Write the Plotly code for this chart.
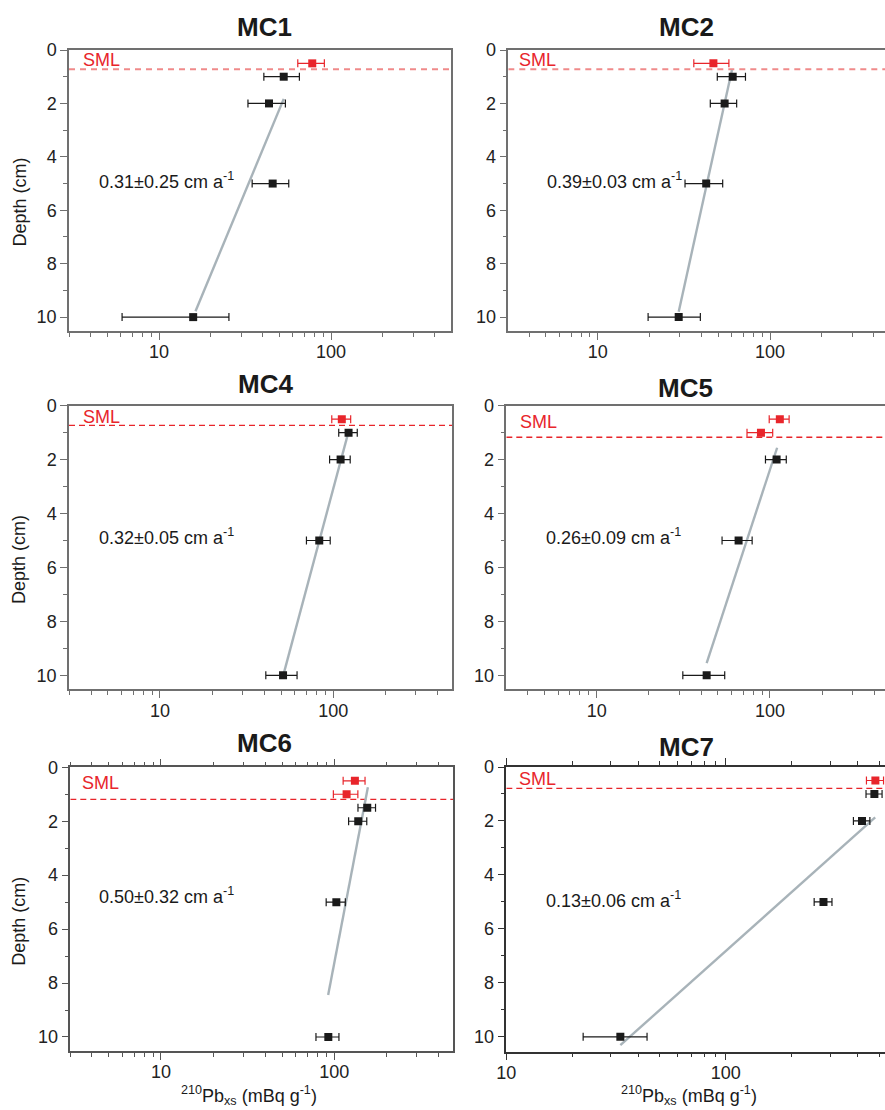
import plotly.graph_objects as go

W, H = 885, 1110

# ---------------- data ----------------
cores = ["MC1", "MC2", "MC4", "MC5", "MC6", "MC7"]

mc1_depth = [0.5, 1, 2, 5, 10]
mc1_pb = [77.8, 53.1, 43.6, 45.8, 15.8]
mc1_err = [13.7, 12.4, 10.7, 11.0, 9.7]
mc1_sml = [True, False, False, False, False]
mc1_fit_pb = [53.1, 16.3]
mc1_fit_depth = [1.83, 9.78]
mc1_sml_depth = 0.72
mc1_rate = "0.31±0.25 cm a<sup>-1</sup>"

mc2_depth = [0.5, 1, 2, 5, 10]
mc2_pb = [46.9, 60.7, 54.5, 42.6, 29.5]
mc2_err = [10.8, 11.3, 9.5, 10.5, 9.9]
mc2_sml = [True, False, False, False, False]
mc2_fit_pb = [60.1, 29.5]
mc2_fit_depth = [0.75, 9.8]
mc2_sml_depth = 0.72
mc2_rate = "0.39±0.03 cm a<sup>-1</sup>"

mc4_depth = [0.5, 1, 2, 5, 10]
mc4_pb = [112, 122.5, 110.2, 83, 51.3]
mc4_err = [14, 15, 15, 13, 10.5]
mc4_sml = [True, False, False, False, False]
mc4_fit_pb = [122.5, 51.8]
mc4_fit_depth = [0.96, 9.93]
mc4_sml_depth = 0.73
mc4_rate = "0.32±0.05 cm a<sup>-1</sup>"

mc5_depth = [0.5, 1, 2, 5, 10]
mc5_pb = [114, 88.7, 109.2, 65.9, 43.1]
mc5_err = [15, 15, 15, 13, 11.7]
mc5_sml = [True, True, False, False, False]
mc5_fit_pb = [110, 43.1]
mc5_fit_depth = [1.56, 9.55]
mc5_sml_depth = 1.17
mc5_rate = "0.26±0.09 cm a<sup>-1</sup>"

mc6_depth = [0.5, 1, 1.5, 2, 5, 10]
mc6_pb = [131.5, 117.8, 155, 137.5, 102.8, 92.4]
mc6_err = [19, 19, 18, 16.5, 13, 14]
mc6_sml = [True, True, False, False, False, False]
mc6_fit_pb = [156.3, 92.2]
mc6_fit_depth = [0.74, 8.44]
mc6_sml_depth = 1.19
mc6_rate = "0.50±0.32 cm a<sup>-1</sup>"

mc7_depth = [0.5, 1, 2, 5, 10]
mc7_pb = [481, 476, 418, 279, 33.1]
mc7_err = [43, 40, 36, 26, 10.7]
mc7_sml = [True, False, False, False, False]
mc7_fit_pb = [480, 33.1]
mc7_fit_depth = [1.87, 10.31]
mc7_sml_depth = 0.79
mc7_rate = "0.13±0.06 cm a<sup>-1</sup>"

x_title = "<sup>210</sup>Pb<sub>xs</sub> (mBq g<sup>-1</sup>)"
y_title = "Depth (cm)"
y_ticks = [0, 2, 4, 6, 8, 10]
y_minor = [1, 3, 5, 7, 9]
x_ticks = [10, 100]

# ---------------- layout geometry (pixels) ----------------
panels = [
    dict(l=69, r=451, t=50, b=331, xr=[0.4767, 2.6977], yb=10.52, col=0),
    dict(l=508.3, r=885, t=50, b=331, xr=[0.481, 2.667], yb=10.52, col=1),
    dict(l=69, r=452, t=405.7, b=689.3, xr=[0.475, 2.685], yb=10.52, col=0),
    dict(l=506.3, r=885, t=405.7, b=689.3, xr=[0.478, 2.664], yb=10.52, col=1),
    dict(l=70.3, r=453, t=767.3, b=1051, xr=[0.477, 2.685], yb=10.52, col=0),
    dict(l=506.3, r=885, t=767, b=1051.7, xr=[1.0, 2.726], yb=10.55, col=1),
]
title_pos = [(264, 27), (686.7, 27), (265, 384), (685.3, 388), (264.3, 743), (686.7, 746.7)]
rate_pos = [(97, 180), (545, 180), (97, 536.7), (544.3, 536.7), (97, 895.7), (544.3, 899)]
sml_pos = [(81, 60), (517.3, 60), (81, 416.7), (517.7, 422.3), (80, 783.3), (517.3, 779.3)]

data = [
    (mc1_depth, mc1_pb, mc1_err, mc1_sml, mc1_fit_pb, mc1_fit_depth, mc1_sml_depth, mc1_rate),
    (mc2_depth, mc2_pb, mc2_err, mc2_sml, mc2_fit_pb, mc2_fit_depth, mc2_sml_depth, mc2_rate),
    (mc4_depth, mc4_pb, mc4_err, mc4_sml, mc4_fit_pb, mc4_fit_depth, mc4_sml_depth, mc4_rate),
    (mc5_depth, mc5_pb, mc5_err, mc5_sml, mc5_fit_pb, mc5_fit_depth, mc5_sml_depth, mc5_rate),
    (mc6_depth, mc6_pb, mc6_err, mc6_sml, mc6_fit_pb, mc6_fit_depth, mc6_sml_depth, mc6_rate),
    (mc7_depth, mc7_pb, mc7_err, mc7_sml, mc7_fit_pb, mc7_fit_depth, mc7_sml_depth, mc7_rate),
]

RED = "#e8252b"
BLACK = "#1a1a1a"
FIT = "#a8b3b9"
FONT = "Liberation Sans, Arial, sans-serif"


def px(x):
    return x / W


def py(y):
    return 1 - y / H


fig = go.Figure()
annotations = []

for i, (name, p, d) in enumerate(zip(cores, panels, data)):
    depth, pb, err, sml, fit_pb, fit_depth, sml_depth, rate = d
    n = i + 1
    xa = "x" if n == 1 else f"x{n}"
    ya = "y" if n == 1 else f"y{n}"
    xkey = "xaxis" if n == 1 else f"xaxis{n}"
    ykey = "yaxis" if n == 1 else f"yaxis{n}"

    if i < 4:
        frame = "#707070"
    elif i == 4:
        frame = "#555555"
    else:
        frame = "#333333"

    x_minor = [v for v in [3, 4, 5, 6, 7, 8, 9, 20, 30, 40, 50, 60, 70, 80, 90, 200, 300, 400, 500]
               if 10 ** p["xr"][0] - 1e-6 <= v <= 10 ** p["xr"][1] + 1e-6]

    fig.update_layout(**{
        xkey: dict(
            type="log", range=p["xr"], domain=[px(p["l"]), px(p["r"])], anchor=ya,
            automargin=False,
            showgrid=False, zeroline=False, showline=True, linecolor=frame, linewidth=1.5,
            mirror="ticks" if i >= 4 else True,
            ticks="outside", ticklen=7, tickwidth=1.2, tickcolor=frame,
            tickvals=x_ticks, ticktext=[str(v) for v in x_ticks],
            ticklabelstandoff=-3,
            tickfont=dict(size=18, color="#222", family=FONT),
            minor=dict(tickvals=x_minor, ticks="outside", ticklen=4, tickwidth=1.2,
                       tickcolor=frame, showgrid=False),
        ),
        ykey: dict(
            range=[p["yb"], 0], domain=[py(p["b"]), py(p["t"])], anchor=xa,
            automargin=False,
            showgrid=False, zeroline=False, showline=True, linecolor=frame, linewidth=1.5,
            mirror=(p["col"] == 0),
            ticks="outside", ticklen=7, tickwidth=1.2, tickcolor=frame,
            tickvals=y_ticks, tickfont=dict(size=18, color="#222", family=FONT),
            minor=dict(tickvals=y_minor, ticks="outside", ticklen=4, tickwidth=1.2,
                       tickcolor=frame, showgrid=False),
        ),
    })

    # SML dashed line
    if i < 2:
        dash_color, dash_w, dash = "#f08a8a", 2.2, "6px,5px"
    else:
        dash_color, dash_w, dash = RED, 1.3, "6px,4px"
    fig.add_trace(go.Scatter(
        x=[10 ** p["xr"][0], 10 ** p["xr"][1]], y=[sml_depth, sml_depth], mode="lines",
        line=dict(color=dash_color, width=dash_w, dash=dash), xaxis=xa, yaxis=ya,
        showlegend=False, hoverinfo="skip"))

    # fit line
    fig.add_trace(go.Scatter(
        x=fit_pb, y=fit_depth, mode="lines", line=dict(color=FIT, width=2.4),
        xaxis=xa, yaxis=ya, showlegend=False))

    # points
    for flag, color in [(False, BLACK), (True, RED)]:
        xs = [v for v, s in zip(pb, sml) if s == flag]
        ys = [v for v, s in zip(depth, sml) if s == flag]
        es = [v for v, s in zip(err, sml) if s == flag]
        fig.add_trace(go.Scatter(
            x=xs, y=ys, mode="markers",
            marker=dict(symbol="square", size=8, color=color, line=dict(width=0)),
            error_x=dict(type="data", array=es, visible=True, color=color, thickness=1.2, width=4),
            xaxis=xa, yaxis=ya, showlegend=False))

    tx, ty = title_pos[i]
    annotations.append(dict(x=px(tx), y=py(ty), xref="paper", yref="paper", text=f"<b>{name}</b>",
                            showarrow=False, xanchor="center", yanchor="middle",
                            font=dict(size=26, color="#1a1a1a", family=FONT)))
    rx, ry = rate_pos[i]
    annotations.append(dict(x=px(rx), y=py(ry), xref="paper", yref="paper", text=rate,
                            showarrow=False, xanchor="left", yanchor="middle",
                            font=dict(size=18, color="#1a1a1a", family=FONT)))
    sx, sy = sml_pos[i]
    annotations.append(dict(x=px(sx), y=py(sy), xref="paper", yref="paper", text="SML",
                            showarrow=False, xanchor="left", yanchor="middle",
                            font=dict(size=18, color=RED, family=FONT)))

# y axis titles (left column)
for yc in [202.5, 560, 921.7]:
    annotations.append(dict(x=px(19), y=py(yc), xref="paper", yref="paper", text=y_title,
                            showarrow=False, textangle=-90, xanchor="center", yanchor="middle",
                            font=dict(size=18, color="#1a1a1a", family=FONT)))
# x axis titles (bottom row)
for xc in [249, 689]:
    annotations.append(dict(x=px(xc), y=py(1095), xref="paper", yref="paper", text=x_title,
                            showarrow=False, xanchor="center", yanchor="middle",
                            font=dict(size=18, color="#1a1a1a", family=FONT)))

fig.update_layout(
    width=W, height=H, margin=dict(l=0, r=0, t=0, b=0, autoexpand=False),
    paper_bgcolor="white", plot_bgcolor="white",
    annotations=annotations, showlegend=False,
    font=dict(family=FONT),
)

fig.write_html(
    "out.html",
    config={"displayModeBar": False},
    post_script="document.body.style.margin='0';document.body.style.padding='0';document.body.style.overflow='hidden';",
)
